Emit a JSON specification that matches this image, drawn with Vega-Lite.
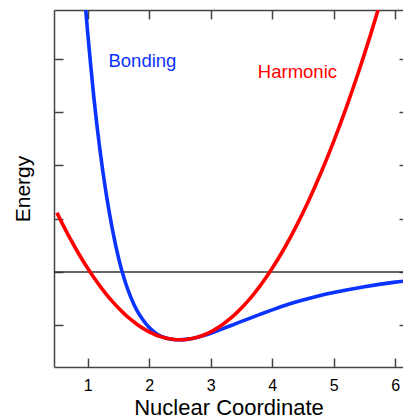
{
  "$schema": "https://vega.github.io/schema/vega-lite/v6.json",
  "width": 349,
  "height": 357,
  "autosize": {"type": "none"},
  "padding": {"left": 54, "top": 10, "right": 0, "bottom": 52},
  "background": "white",
  "config": {
    "view": {"stroke": null},
    "font": "Liberation Sans",
    "axis": {
      "grid": false,
      "domainColor": "#444444",
      "domainWidth": 1.5,
      "tickColor": "#444444",
      "tickWidth": 1.5,
      "tickSize": -9,
      "labelFont": "Liberation Sans",
      "labelColor": "#000000",
      "titleFont": "Liberation Sans",
      "titleColor": "#000000",
      "titleFontWeight": "normal"
    }
  },
  "datasets": {
    "curves": [
      {"series": "Bonding", "x": 0.9, "y": 5.88},
      {"series": "Bonding", "x": 0.95, "y": 5.15},
      {"series": "Bonding", "x": 1.0, "y": 4.48},
      {"series": "Bonding", "x": 1.05, "y": 3.86},
      {"series": "Bonding", "x": 1.1, "y": 3.27},
      {"series": "Bonding", "x": 1.15, "y": 2.75},
      {"series": "Bonding", "x": 1.2, "y": 2.28},
      {"series": "Bonding", "x": 1.3, "y": 1.47},
      {"series": "Bonding", "x": 1.4, "y": 0.81},
      {"series": "Bonding", "x": 1.5, "y": 0.27},
      {"series": "Bonding", "x": 1.6, "y": -0.15},
      {"series": "Bonding", "x": 1.7, "y": -0.47},
      {"series": "Bonding", "x": 1.8, "y": -0.72},
      {"series": "Bonding", "x": 1.9, "y": -0.9},
      {"series": "Bonding", "x": 2.0, "y": -1.04},
      {"series": "Bonding", "x": 2.1, "y": -1.14},
      {"series": "Bonding", "x": 2.2, "y": -1.205},
      {"series": "Bonding", "x": 2.3, "y": -1.245},
      {"series": "Bonding", "x": 2.4, "y": -1.264},
      {"series": "Bonding", "x": 2.5, "y": -1.27},
      {"series": "Bonding", "x": 2.6, "y": -1.263},
      {"series": "Bonding", "x": 2.7, "y": -1.245},
      {"series": "Bonding", "x": 2.8, "y": -1.217},
      {"series": "Bonding", "x": 2.9, "y": -1.185},
      {"series": "Bonding", "x": 3.0, "y": -1.147},
      {"series": "Bonding", "x": 3.2, "y": -1.062},
      {"series": "Bonding", "x": 3.4, "y": -0.972},
      {"series": "Bonding", "x": 3.6, "y": -0.882},
      {"series": "Bonding", "x": 3.8, "y": -0.795},
      {"series": "Bonding", "x": 4.0, "y": -0.71},
      {"series": "Bonding", "x": 4.25, "y": -0.61},
      {"series": "Bonding", "x": 4.5, "y": -0.525},
      {"series": "Bonding", "x": 4.75, "y": -0.45},
      {"series": "Bonding", "x": 5.0, "y": -0.385},
      {"series": "Bonding", "x": 5.5, "y": -0.275},
      {"series": "Bonding", "x": 6.0, "y": -0.19},
      {"series": "Bonding", "x": 6.2, "y": -0.165},
      {"series": "Harmonic", "x": 0.5, "y": 1.11},
      {"series": "Harmonic", "x": 0.6, "y": 0.878},
      {"series": "Harmonic", "x": 0.7, "y": 0.658},
      {"series": "Harmonic", "x": 0.8, "y": 0.45},
      {"series": "Harmonic", "x": 0.9, "y": 0.253},
      {"series": "Harmonic", "x": 1.0, "y": 0.069},
      {"series": "Harmonic", "x": 1.1, "y": -0.104},
      {"series": "Harmonic", "x": 1.2, "y": -0.264},
      {"series": "Harmonic", "x": 1.3, "y": -0.413},
      {"series": "Harmonic", "x": 1.4, "y": -0.55},
      {"series": "Harmonic", "x": 1.5, "y": -0.675},
      {"series": "Harmonic", "x": 1.6, "y": -0.788},
      {"series": "Harmonic", "x": 1.7, "y": -0.889},
      {"series": "Harmonic", "x": 1.8, "y": -0.978},
      {"series": "Harmonic", "x": 1.9, "y": -1.056},
      {"series": "Harmonic", "x": 2.0, "y": -1.121},
      {"series": "Harmonic", "x": 2.1, "y": -1.175},
      {"series": "Harmonic", "x": 2.2, "y": -1.216},
      {"series": "Harmonic", "x": 2.3, "y": -1.246},
      {"series": "Harmonic", "x": 2.4, "y": -1.264},
      {"series": "Harmonic", "x": 2.5, "y": -1.27},
      {"series": "Harmonic", "x": 2.6, "y": -1.264},
      {"series": "Harmonic", "x": 2.7, "y": -1.246},
      {"series": "Harmonic", "x": 2.8, "y": -1.216},
      {"series": "Harmonic", "x": 2.9, "y": -1.175},
      {"series": "Harmonic", "x": 3.0, "y": -1.121},
      {"series": "Harmonic", "x": 3.1, "y": -1.056},
      {"series": "Harmonic", "x": 3.2, "y": -0.978},
      {"series": "Harmonic", "x": 3.3, "y": -0.889},
      {"series": "Harmonic", "x": 3.4, "y": -0.788},
      {"series": "Harmonic", "x": 3.5, "y": -0.675},
      {"series": "Harmonic", "x": 3.6, "y": -0.55},
      {"series": "Harmonic", "x": 3.7, "y": -0.413},
      {"series": "Harmonic", "x": 3.8, "y": -0.264},
      {"series": "Harmonic", "x": 3.9, "y": -0.104},
      {"series": "Harmonic", "x": 4.0, "y": 0.069},
      {"series": "Harmonic", "x": 4.2, "y": 0.45},
      {"series": "Harmonic", "x": 4.4, "y": 0.878},
      {"series": "Harmonic", "x": 4.6, "y": 1.354},
      {"series": "Harmonic", "x": 4.8, "y": 1.878},
      {"series": "Harmonic", "x": 5.0, "y": 2.449},
      {"series": "Harmonic", "x": 5.2, "y": 3.068},
      {"series": "Harmonic", "x": 5.4, "y": 3.734},
      {"series": "Harmonic", "x": 5.6, "y": 4.448},
      {"series": "Harmonic", "x": 5.8, "y": 5.21},
      {"series": "Harmonic", "x": 6.0, "y": 6.019}
    ],
    "labels": [
      {"series": "Bonding", "lx": 1.89, "ly": 3.95},
      {"series": "Harmonic", "lx": 4.41, "ly": 3.75}
    ],
    "baseline": [
      {"energy": 0}
    ]
  },
  "layer": [
    {
      "data": {"name": "baseline"},
      "mark": {"type": "rule", "color": "#333333", "strokeWidth": 1.3},
      "encoding": {
        "y": {"field": "energy", "type": "quantitative", "scale": {"domain": [-1.78, 4.91], "nice": false, "zero": false}, "axis": null}
      }
    },
    {
      "data": {"name": "curves"},
      "mark": {"type": "line", "clip": true, "strokeWidth": 3.6, "interpolate": "monotone"},
      "encoding": {
        "x": {
          "field": "x", "type": "quantitative",
          "scale": {"domain": [0.452, 6.127], "nice": false, "zero": false},
          "axis": {"orient": "bottom", "values": [1, 2, 3, 4, 5, 6], "title": "Nuclear Coordinate", "labelFontSize": 16, "labelPadding": 19, "titleFontSize": 22, "titlePadding": 4}
        },
        "y": {
          "field": "y", "type": "quantitative",
          "scale": {"domain": [-1.78, 4.91], "nice": false, "zero": false},
          "axis": {"orient": "left", "values": [-1, 0, 1, 2, 3, 4], "labels": false, "title": "Energy", "titleFontSize": 21, "titlePadding": 20}
        },
        "color": {"field": "series", "type": "nominal", "scale": {"domain": ["Bonding", "Harmonic"], "range": ["#0a33ff", "#ff0000"]}, "legend": null},
        "order": {"field": "x", "type": "quantitative"}
      }
    },
    {
      "data": {"name": "labels"},
      "mark": {"type": "text", "fontSize": 18.5, "font": "Liberation Sans", "align": "center", "baseline": "middle"},
      "encoding": {
        "x": {"field": "lx", "type": "quantitative", "axis": null},
        "y": {"field": "ly", "type": "quantitative", "axis": null},
        "text": {"field": "series"},
        "color": {"field": "series", "type": "nominal", "legend": null}
      }
    },
    {
      "data": {"name": "baseline"},
      "mark": {"type": "rule", "strokeWidth": 0, "opacity": 0},
      "encoding": {
        "x": {"datum": 1, "type": "quantitative", "axis": {"orient": "top", "values": [1, 2, 3, 4, 5, 6], "labels": false, "title": null}},
        "y": {"datum": 0, "type": "quantitative", "axis": {"orient": "right", "values": [-1, 0, 1, 2, 3, 4], "labels": false, "title": null, "domain": false, "tickSize": -4}}
      }
    }
  ],
  "resolve": {"axis": {"x": "independent", "y": "independent"}}
}
